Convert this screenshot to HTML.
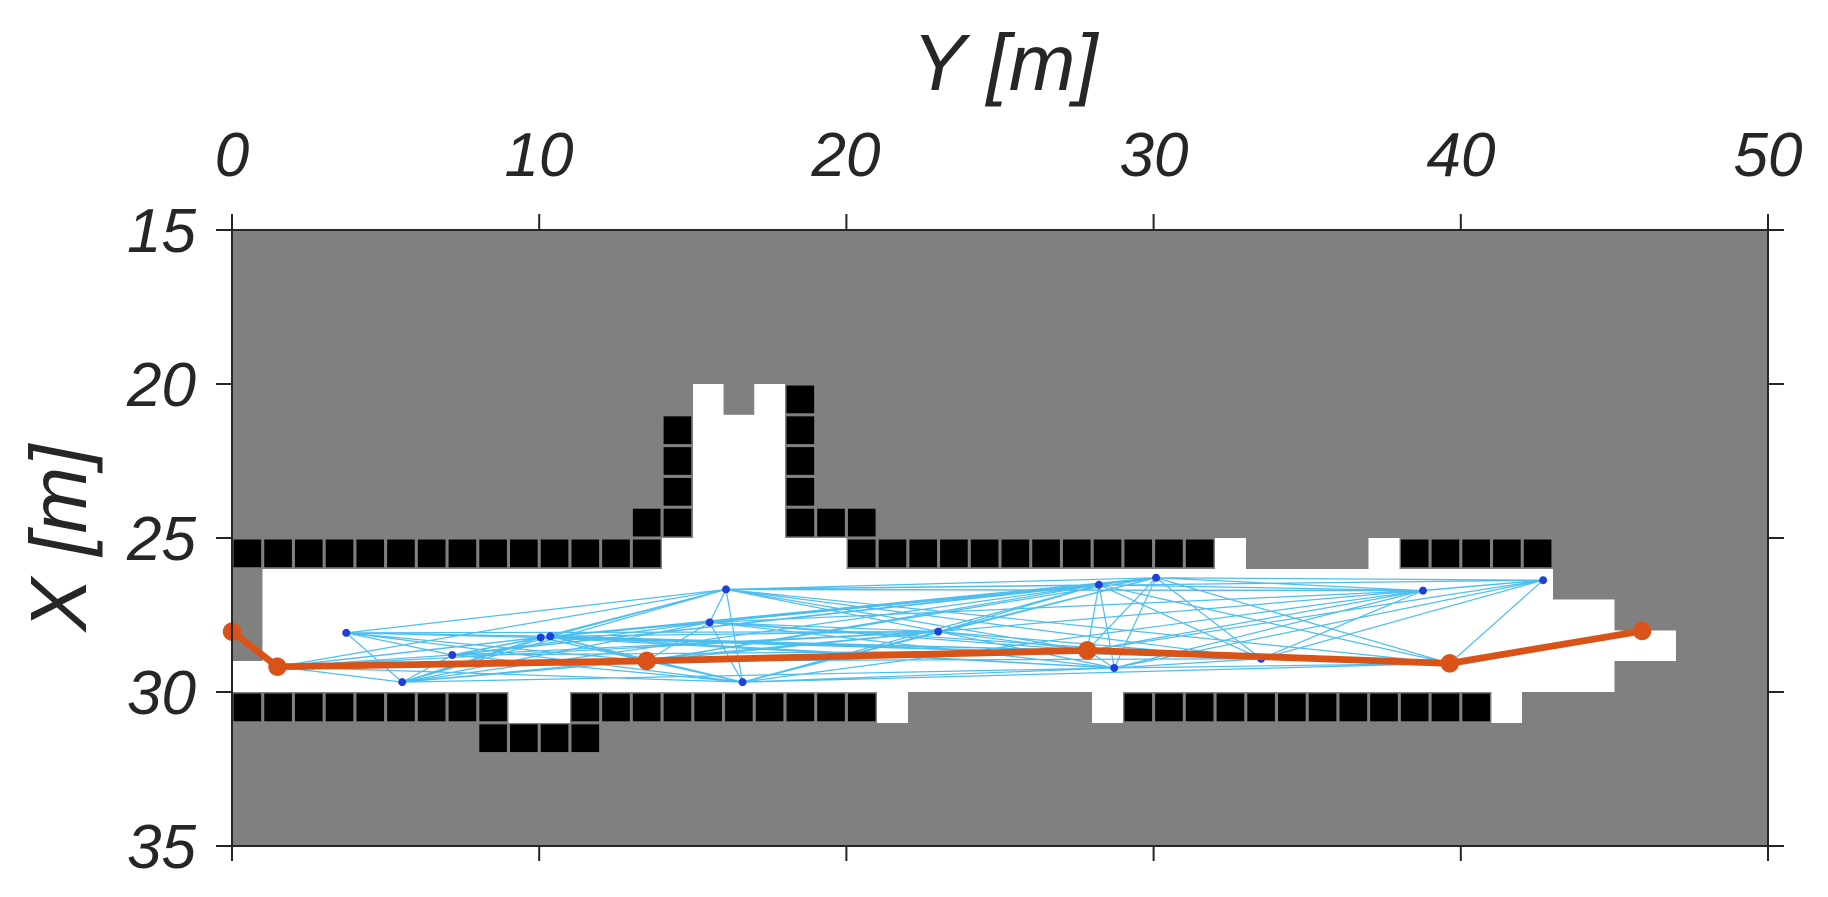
<!DOCTYPE html>
<html><head><meta charset="utf-8"><style>
html,body{margin:0;padding:0;background:#fff;}
svg{display:block;}
text{font-family:"Liberation Sans",Arial,sans-serif;font-style:italic;fill:#262626;}
</style></head><body>
<svg id="s" width="1828" height="897" viewBox="0 0 1828 897" xmlns="http://www.w3.org/2000/svg">
<g id="map" transform="translate(232,230) scale(30.72,30.8)">
<rect x="0" y="0" width="50" height="20" fill="#808080"/>
<g fill="#fff" shape-rendering="crispEdges">
<rect x="1" y="11" width="42" height="4"/>
<rect x="0" y="14" width="1.1" height="1"/>
<rect x="42.9" y="12" width="2.1" height="3"/>
<rect x="44.9" y="13" width="2.1" height="1"/>
<rect x="15" y="5" width="3" height="6.1"/>
<rect x="14" y="10" width="6" height="1.1"/>
<rect x="32" y="10" width="1" height="1.1"/>
<rect x="37" y="10" width="1" height="1.1"/>
<rect x="9" y="14.9" width="2" height="1.1"/>
<rect x="21" y="14.9" width="1" height="1.1"/>
<rect x="28" y="14.9" width="1" height="1.1"/>
<rect x="41" y="14.9" width="1" height="1.1"/>
</g>
<rect x="16" y="5" width="1" height="1" fill="#808080"/>
<g id="blk" fill="#000"></g>
<g id="edges" stroke="#4dbeee" stroke-width="0.04" fill="none"></g>
<g id="nodes" fill="#1f3fd8"></g>
<polyline points="0,13.04 1.48,14.18 13.5,13.99 27.84,13.65 39.64,14.07 45.9,13.02" fill="none" stroke="#d95319" stroke-width="0.22" stroke-linejoin="round"/>
<g fill="#d95319">
<ellipse cx="0" cy="13.04" rx="0.3" ry="0.3"/><ellipse cx="1.48" cy="14.18" rx="0.3" ry="0.3"/><ellipse cx="13.5" cy="13.99" rx="0.3" ry="0.3"/><ellipse cx="27.84" cy="13.65" rx="0.3" ry="0.3"/><ellipse cx="39.64" cy="14.07" rx="0.3" ry="0.3"/><ellipse cx="45.9" cy="13.02" rx="0.3" ry="0.3"/>
</g>
</g>
<rect x="232" y="230" width="1536" height="616" fill="none" stroke="#262626" stroke-width="2"/>
<g id="ticks" stroke="#262626" stroke-width="2"></g>
<g font-size="62" text-anchor="middle">
<text x="232" y="176">0</text><text x="539" y="176">10</text><text x="846" y="176">20</text><text x="1154" y="176">30</text><text x="1461" y="176">40</text><text x="1768" y="176">50</text>
</g>
<g font-size="62" text-anchor="end">
<text x="196" y="252">15</text><text x="196" y="406">20</text><text x="196" y="560">25</text><text x="196" y="714">30</text><text x="196" y="868">35</text>
</g>
<text x="1005" y="90" font-size="80" text-anchor="middle">Y [m]</text>
<text x="0" y="0" font-size="80" text-anchor="middle" transform="translate(86,538) rotate(-90)">X [m]</text>
</svg>
<script>
var NS="http://www.w3.org/2000/svg";
function el(p,t,a){var e=document.createElementNS(NS,t);for(var k in a)e.setAttribute(k,a[k]);p.appendChild(e);return e;}
var blk=document.getElementById("blk");
var cells=[];
for(var i=0;i<14;i++)cells.push([i,10]);
for(var i=20;i<32;i++)cells.push([i,10]);
for(var i=38;i<43;i++)cells.push([i,10]);
for(var r=6;r<10;r++)cells.push([14,r]);
cells.push([13,9]);
for(var r=5;r<10;r++)cells.push([18,r]);
cells.push([19,9]);cells.push([20,9]);
for(var i=0;i<9;i++)cells.push([i,15]);
for(var i=11;i<21;i++)cells.push([i,15]);
for(var i=29;i<41;i++)cells.push([i,15]);
for(var i=8;i<12;i++)cells.push([i,16]);
cells.forEach(function(c){el(blk,"rect",{x:c[0]+0.05,y:c[1]+0.05,width:0.9,height:0.9});});
var N=[[3.72,13.08],[7.17,13.8],[5.54,14.68],[10.05,13.23],[10.36,13.19],[15.55,12.74],[16.08,11.67],[16.62,14.68],[22.99,13.04],[28.22,11.52],[30.08,11.29],[28.72,14.22],[33.5,13.92],[38.77,11.71],[42.68,11.37]];
var O=[[1.48,14.18],[13.5,13.99],[27.84,13.65],[39.64,14.07]];
var A=N.concat(O);
var eg=document.getElementById("edges");
for(var i=0;i<A.length;i++)for(var j=i+1;j<A.length;j++){
 var d=Math.abs(A[i][0]-A[j][0]);
 if(d<24 && ((i*7+j*3)%5!=0)){
  el(eg,"line",{x1:A[i][0],y1:A[i][1],x2:A[j][0],y2:A[j][1]});
 }
}
el(eg,"line",{x1:16.08,y1:11.67,x2:42.68,y2:11.37});
el(eg,"line",{x1:16.08,y1:11.67,x2:38.77,y2:11.71});
var nd=document.getElementById("nodes");
N.forEach(function(p){el(nd,"ellipse",{cx:p[0],cy:p[1],rx:0.13,ry:0.13});});
var tk=document.getElementById("ticks");
for(var k=0;k<=5;k++){var x=232+k*307.2;
 el(tk,"line",{x1:x,y1:214,x2:x,y2:230});el(tk,"line",{x1:x,y1:846,x2:x,y2:861});}
for(var k=0;k<=4;k++){var y=230+k*154;
 el(tk,"line",{x1:216,y1:y,x2:232,y2:y});el(tk,"line",{x1:1768,y1:y,x2:1784,y2:y});}
</script>
</body></html>
